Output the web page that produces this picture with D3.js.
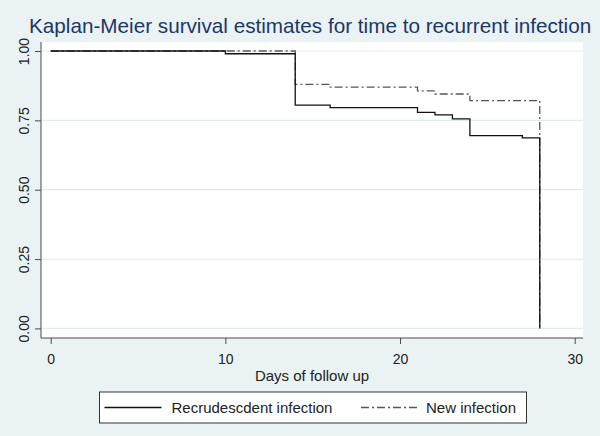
<!DOCTYPE html>
<html>
<head>
<meta charset="utf-8">
<script src="https://cdn.jsdelivr.net/npm/d3@7"></script>
<style>
  html, body { margin: 0; padding: 0; background: #eaf2f3; }
  svg { display: block; font-family: "Liberation Sans", Arial, sans-serif; }
</style>
</head>
<body>
<svg id="km-svg"></svg>
<script>
const title = "Kaplan-Meier survival estimates for time to recurrent infection";
const xLabel = "Days of follow up";
const seriesNames = ["Recrudescdent infection", "New infection"];

// step curves (time in days, survival)
const recrudTimes = [0, 10, 14, 16, 21, 22, 23, 24, 27, 28];
const recrudSurv = [1, 0.99, 0.805, 0.796, 0.779, 0.77, 0.755, 0.695, 0.687, 0];
const newTimes = [0, 14, 16, 21, 22, 24, 28];
const newSurv = [1, 0.88, 0.87, 0.856, 0.845, 0.821, 0];

const xTicks = [0, 10, 20, 30];
const yTicks = [0, 0.25, 0.5, 0.75, 1];

const width = 600;
const height = 436;
const plot = { left: 41, right: 583, top: 42, bottom: 338 };

const svg = d3.select("#km-svg").attr("width", width).attr("height", height);

svg.append("rect")
  .attr("width", width)
  .attr("height", height)
  .attr("fill", "#eaf2f3");

const x = d3.scaleLinear().domain([0, 30]).range([50.7, 574.7]);
const y = d3.scaleLinear().domain([0, 1]).range([328.4, 51]);

// plot region
svg.append("rect")
  .attr("x", plot.left)
  .attr("y", plot.top)
  .attr("width", plot.right - plot.left)
  .attr("height", plot.bottom - plot.top)
  .attr("fill", "#ffffff");

// gridlines
svg.append("g")
  .selectAll("line")
  .data(yTicks)
  .join("line")
  .attr("x1", plot.left + 1)
  .attr("x2", plot.right)
  .attr("y1", (d) => y(d))
  .attr("y2", (d) => y(d))
  .attr("stroke", "#e1ebee")
  .attr("stroke-width", 1.2);

// y axis, labels turned on their side like the reference
svg.append("g")
  .attr("transform", `translate(${plot.left},0)`)
  .call(d3.axisLeft(y).tickValues(yTicks).tickFormat(d3.format(".2f")).tickSize(6).tickSizeOuter(0))
  .call((g) => g.select(".domain").attr("d", `M0,${plot.top}V${plot.bottom}`))
  .call((g) => g.selectAll("line, path").attr("stroke", "#4a4a4a"))
  .call((g) => g.selectAll("text")
    .attr("x", 0)
    .attr("y", 0)
    .attr("dy", 0)
    .attr("transform", "translate(-12.5,0) rotate(-90)")
    .attr("text-anchor", "middle")
    .attr("fill", "#222")
    .attr("font-size", 14)
    .attr("font-family", "Liberation Sans, Arial, sans-serif"));

// x axis
svg.append("g")
  .attr("transform", `translate(0,${plot.bottom})`)
  .call(d3.axisBottom(x).tickValues(xTicks).tickSize(6).tickSizeOuter(0))
  .call((g) => g.select(".domain").attr("d", `M${plot.left},0H${plot.right}`))
  .call((g) => g.selectAll("line, path").attr("stroke", "#4a4a4a"))
  .call((g) => g.selectAll("text")
    .attr("y", 25.5)
    .attr("dy", 0)
    .attr("fill", "#222")
    .attr("font-size", 14)
    .attr("font-family", "Liberation Sans, Arial, sans-serif"));

svg.append("text")
  .attr("x", (plot.left + plot.right) / 2)
  .attr("y", 381)
  .attr("text-anchor", "middle")
  .attr("font-size", 15)
  .attr("fill", "#222")
  .text(xLabel);

// curves
const line = d3.line()
  .x((d) => x(d[0]))
  .y((d) => y(d[1]))
  .curve(d3.curveStepAfter);

const recrud = d3.zip(recrudTimes, recrudSurv);
const newInf = d3.zip(newTimes, newSurv);

svg.append("path")
  .datum(newInf)
  .attr("d", line)
  .attr("fill", "none")
  .attr("stroke", "#555")
  .attr("stroke-width", 1.3)
  .attr("stroke-dasharray", "8,3,2,3");

svg.append("path")
  .datum(recrud)
  .attr("d", line)
  .attr("fill", "none")
  .attr("stroke", "#111")
  .attr("stroke-width", 1.3);

// title
svg.append("text")
  .attr("x", 29)
  .attr("y", 33)
  .attr("font-size", 20.7)
  .attr("fill", "#1c3766")
  .text(title);

// legend
const legend = svg.append("g");
legend.append("rect")
  .attr("x", 99.5)
  .attr("y", 392)
  .attr("width", 427)
  .attr("height", 31)
  .attr("fill", "#ffffff")
  .attr("stroke", "#333")
  .attr("stroke-width", 1);

const legendItems = [
  { name: seriesNames[0], x1: 104.5, x2: 161.5, tx: 171.5, color: "#111", dash: null },
  { name: seriesNames[1], x1: 361, x2: 417, tx: 426, color: "#555", dash: "8,3,2,3" },
];

legend.selectAll("line")
  .data(legendItems)
  .join("line")
  .attr("x1", (d) => d.x1)
  .attr("x2", (d) => d.x2)
  .attr("y1", 407.5)
  .attr("y2", 407.5)
  .attr("stroke", (d) => d.color)
  .attr("stroke-width", 1.3)
  .attr("stroke-dasharray", (d) => d.dash);

legend.selectAll("text")
  .data(legendItems)
  .join("text")
  .attr("x", (d) => d.tx)
  .attr("y", 413)
  .attr("font-size", 15)
  .attr("fill", "#222")
  .text((d) => d.name);
</script>
</body>
</html>
